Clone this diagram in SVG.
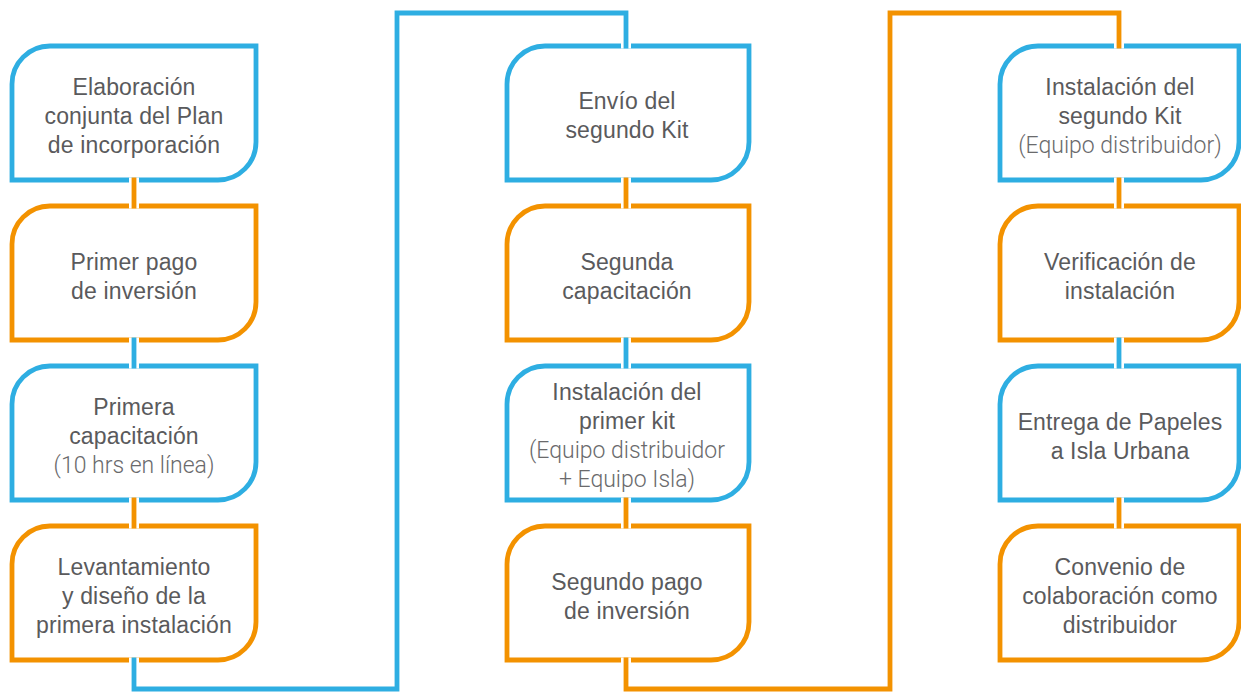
<svg xmlns="http://www.w3.org/2000/svg" width="1241" height="692" viewBox="0 0 1241 692">
<style>
.b{fill:#fff;stroke:#2EAEE2;stroke-width:4.8}
.o{fill:#fff;stroke:#F39200;stroke-width:4.8}
.cb{fill:none;stroke:#2EAEE2;stroke-width:4.8}
.co{fill:none;stroke:#F39200;stroke-width:4.8}
.h{fill:none;stroke:#fff;stroke-width:10}
text{font-family:"Liberation Sans",Arial,sans-serif;font-size:23px;letter-spacing:0.15px;fill:#5A5A5C;text-anchor:middle}
.l{font-family:Roboto,"Liberation Sans",sans-serif;font-weight:300;fill:#6a6a6c;letter-spacing:0px}
</style>
<rect width="1241" height="692" fill="#fff"/>
<g id="n1"><path class="b" d="M12 180V84A38 38 0 0 1 50 46H256V142A38 38 0 0 1 218 180Z"/><text x="134" y="95">Elaboración</text><text x="134" y="124">conjunta del Plan</text><text x="134" y="153">de incorporación</text></g>
<g id="n2"><path class="o" d="M12 340V244A38 38 0 0 1 50 206H256V302A38 38 0 0 1 218 340Z"/><text x="134" y="270">Primer pago</text><text x="134" y="299">de inversión</text></g>
<g id="n3"><path class="b" d="M12 500V404A38 38 0 0 1 50 366H256V462A38 38 0 0 1 218 500Z"/><text x="134" y="415">Primera</text><text x="134" y="444">capacitación</text><text class="l" x="134" y="473">(10 hrs en línea)</text></g>
<g id="n4"><path class="o" d="M12 660V564A38 38 0 0 1 50 526H256V622A38 38 0 0 1 218 660Z"/><text x="134" y="575">Levantamiento</text><text x="134" y="604">y diseño de la</text><text x="134" y="633">primera instalación</text></g>
<g id="n5"><path class="b" d="M507 180V84A38 38 0 0 1 545 46H749V142A38 38 0 0 1 711 180Z"/><text x="627" y="109">Envío del</text><text x="627" y="138">segundo Kit</text></g>
<g id="n6"><path class="o" d="M507 340V244A38 38 0 0 1 545 206H749V302A38 38 0 0 1 711 340Z"/><text x="627" y="270">Segunda</text><text x="627" y="299">capacitación</text></g>
<g id="n7"><path class="b" d="M507 500V404A38 38 0 0 1 545 366H749V462A38 38 0 0 1 711 500Z"/><text x="627" y="400">Instalación del</text><text x="627" y="429">primer kit</text><text class="l" x="627" y="458">(Equipo distribuidor</text><text class="l" x="627" y="487">+ Equipo Isla)</text></g>
<g id="n8"><path class="o" d="M507 660V564A38 38 0 0 1 545 526H749V622A38 38 0 0 1 711 660Z"/><text x="627" y="590">Segundo pago</text><text x="627" y="619">de inversión</text></g>
<g id="n9"><path class="b" d="M1000 180V84A38 38 0 0 1 1038 46H1239V142A38 38 0 0 1 1201 180Z"/><text x="1120" y="95">Instalación del</text><text x="1120" y="124">segundo Kit</text><text class="l" x="1120" y="153">(Equipo distribuidor)</text></g>
<g id="n10"><path class="o" d="M1000 340V244A38 38 0 0 1 1038 206H1239V302A38 38 0 0 1 1201 340Z"/><text x="1120" y="270">Verificación de</text><text x="1120" y="299">instalación</text></g>
<g id="n11"><path class="b" d="M1000 500V404A38 38 0 0 1 1038 366H1239V462A38 38 0 0 1 1201 500Z"/><text x="1120" y="430">Entrega de Papeles</text><text x="1120" y="459">a Isla Urbana</text></g>
<g id="n12"><path class="o" d="M1000 660V564A38 38 0 0 1 1038 526H1239V622A38 38 0 0 1 1201 660Z"/><text x="1120" y="575">Convenio de</text><text x="1120" y="604">colaboración como</text><text x="1120" y="633">distribuidor</text></g>
<g id="connectors">
<path class="h" d="M134 177.5V208.5M134 337.5V368.5M134 497.5V528.5M626 177.5V208.5M626 337.5V368.5M626 497.5V528.5M1119 177.5V208.5M1119 337.5V368.5M1119 497.5V528.5M134 657.5V689H397V13H626V48.5M626 657.5V689H890V13H1119V48.5"/>
<path class="co" d="M134 177.5V208.5M134 497.5V528.5M626 177.5V208.5M626 497.5V528.5M1119 177.5V208.5M1119 497.5V528.5"/>
<path class="cb" d="M134 337.5V368.5M626 337.5V368.5M1119 337.5V368.5"/>
<path class="cb" d="M134 657.5V689H397V13H626V48.5"/>
<path class="co" d="M626 657.5V689H890V13H1119V48.5"/>
</g>
</svg>
